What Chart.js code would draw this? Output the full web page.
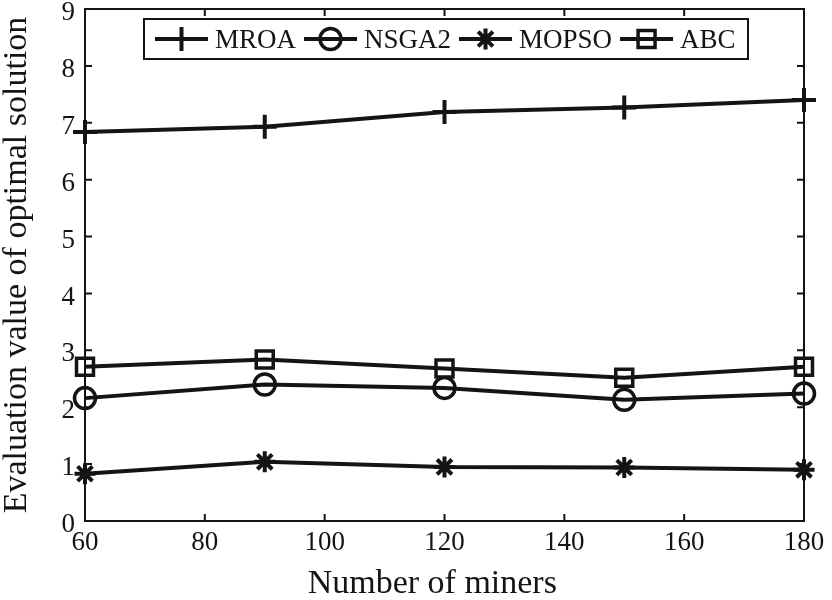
<!DOCTYPE html>
<html>
<head>
<meta charset="utf-8">
<script src="https://cdn.jsdelivr.net/npm/chart.js@4/dist/chart.umd.min.js"></script>
<style>
html,body{margin:0;padding:0;background:#fff;}
#wrap{width:832px;height:600px;position:relative;}
</style>
</head>
<body>
<div id="wrap"><canvas id="c" width="832" height="600"></canvas></div>
<script>
const miners = [60, 90, 120, 150, 180];
const mroa  = [6.84, 6.93, 7.19, 7.27, 7.40];
const nsga2 = [2.16, 2.40, 2.34, 2.13, 2.24];
const mopso = [0.83, 1.04, 0.95, 0.94, 0.90];
const abc   = [2.71, 2.84, 2.68, 2.52, 2.71];
const seriesNames = ['MROA', 'NSGA2', 'MOPSO', 'ABC'];
const xTicks = [60, 80, 100, 120, 140, 160, 180];
const yTicks = [0, 1, 2, 3, 4, 5, 6, 7, 8, 9];
const xTitle = 'Number of miners';
const yTitle = 'Evaluation value of optimal solution';

const FONT = "'Liberation Serif', 'Times New Roman', serif";
const INK = '#141414';
Chart.defaults.font.family = FONT;
Chart.defaults.color = INK;

function pts(vals){ return miners.map((m,i)=>({x:m, y:vals[i]})); }

const styles = [
  {pointStyle:'cross',  pointRadius:12,   pointBorderWidth:4},
  {pointStyle:'circle', pointRadius:10.5, pointBorderWidth:3.5},
  {pointStyle:'star',   pointRadius:10.5, pointBorderWidth:4},
  {pointStyle:'rect',   pointRadius:12,   pointBorderWidth:3.5}
];
const allVals = [mroa, nsga2, mopso, abc];

const datasets = allVals.map((v,i)=>Object.assign({
  label: seriesNames[i],
  data: pts(v),
  borderColor: INK,
  backgroundColor: 'rgba(0,0,0,0)',
  pointBorderColor: INK,
  pointBackgroundColor: 'rgba(0,0,0,0)',
  borderWidth: 4,
  tension: 0,
  clip: false
}, styles[i]));

function drawMarker(ctx, st, x, y){
  ctx.fillStyle = 'rgba(0,0,0,0)';
  if (Chart.helpers && Chart.helpers.drawPoint) {
    Chart.helpers.drawPoint(ctx, {pointStyle: st.pointStyle, radius: st.pointRadius, rotation: 0, borderWidth: st.pointBorderWidth}, x, y);
    return;
  }
  const r = st.pointRadius;
  ctx.beginPath();
  if (st.pointStyle === 'circle') { ctx.arc(x,y,r,0,Math.PI*2); }
  else if (st.pointStyle === 'rect') { const s = r*Math.SQRT1_2; ctx.rect(x-s,y-s,2*s,2*s); }
  else if (st.pointStyle === 'cross') { ctx.moveTo(x-r,y);ctx.lineTo(x+r,y);ctx.moveTo(x,y-r);ctx.lineTo(x,y+r); }
  else { ctx.moveTo(x-r,y);ctx.lineTo(x+r,y);ctx.moveTo(x,y-r);ctx.lineTo(x,y+r);
    const d=r*Math.SQRT1_2; ctx.moveTo(x-d,y-d);ctx.lineTo(x+d,y+d);ctx.moveTo(x-d,y+d);ctx.lineTo(x+d,y-d); }
  ctx.stroke();
}

const framePlugin = {
  id: 'frame',
  afterDraw(chart){
    const ctx = chart.ctx;
    const a = chart.chartArea;
    const xs = chart.scales.x, ys = chart.scales.y;
    ctx.save();
    ctx.strokeStyle = INK;
    ctx.lineWidth = 2;
    ctx.strokeRect(a.left, a.top, a.right - a.left, a.bottom - a.top);
    const tl = 7;
    ctx.beginPath();
    xTicks.forEach(v=>{
      const px = xs.getPixelForValue(v);
      ctx.moveTo(px, a.bottom); ctx.lineTo(px, a.bottom - tl);
      ctx.moveTo(px, a.top); ctx.lineTo(px, a.top + tl);
    });
    yTicks.forEach(v=>{
      const py = ys.getPixelForValue(v);
      ctx.moveTo(a.left, py); ctx.lineTo(a.left + tl, py);
      ctx.moveTo(a.right, py); ctx.lineTo(a.right - tl, py);
    });
    ctx.stroke();

    // x axis title
    ctx.fillStyle = INK;
    ctx.font = '34px ' + FONT;
    ctx.textAlign = 'center';
    ctx.textBaseline = 'alphabetic';
    ctx.fillText(xTitle, a.left + (a.right - a.left) * 0.483, 593);

    // legend
    const bx = 144, by = 19, bw = 604, bh = 40;
    ctx.fillStyle = '#fff';
    ctx.fillRect(bx, by, bw, bh);
    ctx.lineWidth = 2;
    ctx.strokeRect(bx, by, bw, bh);
    ctx.font = '27px ' + FONT;
    ctx.textBaseline = 'middle';
    ctx.textAlign = 'left';
    const cy = by + bh/2;
    let x = 155;
    chart.data.datasets.forEach((ds,i)=>{
      ctx.strokeStyle = INK;
      ctx.lineWidth = 4;
      ctx.beginPath(); ctx.moveTo(x, cy); ctx.lineTo(x+53, cy); ctx.stroke();
      ctx.lineWidth = ds.pointBorderWidth;
      drawMarker(ctx, ds, x+26.5, cy);
      ctx.fillStyle = INK;
      ctx.fillText(ds.label, x+60, cy+2);
      x = x + 60 + ctx.measureText(ds.label).width + 8;
    });
    ctx.restore();
  }
};

new Chart(document.getElementById('c'), {
  type: 'line',
  data: { datasets },
  options: {
    responsive: false,
    animation: false,
    devicePixelRatio: 1,
    layout: { autoPadding: false, padding: { top: 9, right: 28, left: 0, bottom: 0 } },
    plugins: { legend: { display: false }, tooltip: { enabled: false } },
    scales: {
      x: {
        type: 'linear', min: 60, max: 180,
        afterBuildTicks(s){ s.ticks = xTicks.map(v=>({value:v})); },
        ticks: { font: { family: FONT, size: 27 }, color: INK, padding: 6, maxRotation: 0, autoSkip: false },
        grid: { drawOnChartArea: false, drawTicks: false },
        border: { display: false },
        title: { display: false },
        afterFit(s){ s.height = 79; s.paddingLeft = 0; s.paddingRight = 0; }
      },
      y: {
        type: 'linear', min: 0, max: 9,
        afterBuildTicks(s){ s.ticks = yTicks.map(v=>({value:v})); },
        ticks: { font: { family: FONT, size: 27, lineHeight: 0.6 }, color: INK, padding: 10, labelOffset: 4, autoSkip: false },
        grid: { drawOnChartArea: false, drawTicks: false },
        border: { display: false },
        title: { display: true, text: yTitle, color: INK, font: { family: FONT, size: 34, lineHeight: 1.03 }, padding: 0 },
        afterFit(s){ s.width = 85; s.paddingTop = 0; s.paddingBottom = 0; }
      }
    }
  },
  plugins: [framePlugin]
});
</script>
</body>
</html>
